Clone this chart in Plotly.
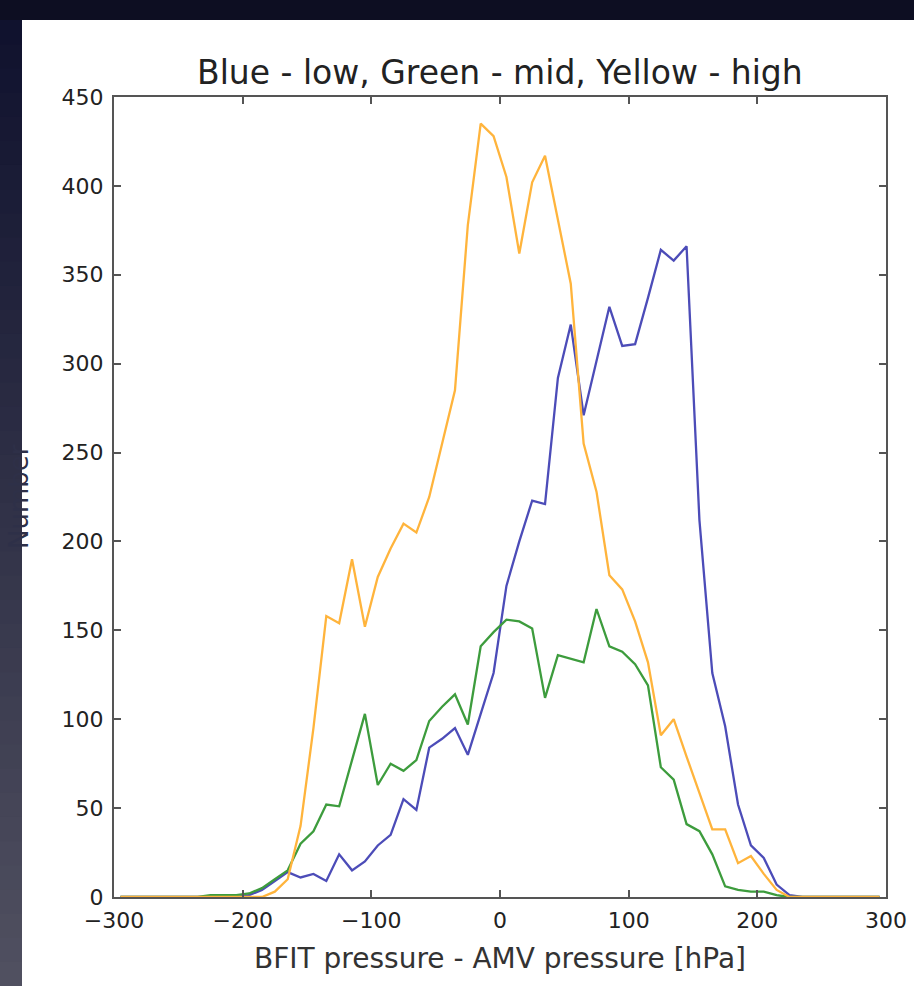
import plotly.graph_objects as go

# ---- data ----
x_centers = list(range(-295, 300, 10))

low_blue = [0, 0, 0, 0, 0, 0, 0, 0, 0, 0,            # -295 .. -205
            1, 4, 9, 14, 11, 13, 9, 24, 15, 20,      # -195 .. -105
            29, 35, 55, 49, 84, 89, 95, 80, 103, 126,  # -95 .. -5
            175, 200, 223, 221, 292, 322, 271, 302, 332, 310,  # 5 .. 95
            311, 337, 364, 358, 366, 212, 126, 96, 52, 29,     # 105 .. 195
            22, 7, 1, 0, 0, 0, 0, 0, 0, 0]                     # 205 .. 295

mid_green = [0, 0, 0, 0, 0, 0, 0, 1, 1, 1,
             2, 5, 10, 15, 30, 37, 52, 51, 77, 103,
             63, 75, 71, 77, 99, 107, 114, 97, 141, 149,
             156, 155, 151, 112, 136, 134, 132, 162, 141, 138,
             131, 119, 73, 66, 41, 37, 24, 6, 4, 3,
             3, 1, 0, 0, 0, 0, 0, 0, 0, 0]

high_yellow = [0, 0, 0, 0, 0, 0, 0, 0, 0, 0,
               0, 0, 3, 10, 40, 95, 158, 154, 190, 152,
               180, 196, 210, 205, 225, 255, 285, 378, 435, 428,
               405, 362, 402, 417, 380, 345, 255, 228, 181, 173,
               155, 132, 91, 100, 79, 58, 38, 38, 19, 23,
               13, 4, 0, 0, 0, 0, 0, 0, 0, 0]

x_ticks = [-300, -200, -100, 0, 100, 200, 300]
y_ticks = [0, 50, 100, 150, 200, 250, 300, 350, 400, 450]

title_text = "Blue - low, Green - mid, Yellow - high"
xlabel_text = "BFIT pressure - AMV pressure [hPa]"
ylabel_text = "Number"

# ---- layout geometry ----
W, H = 914, 986
L, R, T, B = 114, 28, 97, 89
PW, PH = W - L - R, H - T - B


def xp(px):
    return (px - L) / PW


def yp(py):
    return (H - B - py) / PH


fig = go.Figure()

series = [
    (low_blue, "#4c4cb8"),
    (mid_green, "#3d9c3d"),
    (high_yellow, "#ffb43c"),
]
for vals, col in series:
    fig.add_trace(go.Scatter(x=x_centers, y=vals, mode="lines",
                             line=dict(color=col, width=2.3),
                             showlegend=False, hoverinfo="skip"))

shapes = []
# white slide panel
shapes.append(dict(type="rect", xref="paper", yref="paper",
                   x0=xp(22), x1=xp(W + 5), y0=yp(H + 5), y1=yp(20),
                   fillcolor="white", line=dict(width=0), layer="below"))
# dark left strip gradient
n = 40
c0 = (16, 18, 46)
c1 = (80, 80, 96)
for i in range(n):
    t = i / (n - 1)
    c = tuple(int(round(c0[k] + (c1[k] - c0[k]) * t)) for k in range(3))
    y_top = 20 + (H - 20) * i / n
    y_bot = 20 + (H - 20) * (i + 1) / n + 1
    shapes.append(dict(type="rect", xref="paper", yref="paper",
                       x0=xp(-5), x1=xp(22), y0=yp(y_bot), y1=yp(y_top),
                       fillcolor="rgb(%d,%d,%d)" % c, line=dict(width=0),
                       layer="below"))

annotations = [
    dict(text=title_text, xref="paper", yref="paper", x=0.5, y=yp(73),
         xanchor="center", yanchor="middle", showarrow=False,
         font=dict(family="DejaVu Sans", size=33, color="#222222")),
    dict(text=xlabel_text, xref="paper", yref="paper", x=0.5, y=yp(959),
         xanchor="center", yanchor="middle", showarrow=False,
         font=dict(family="DejaVu Sans", size=28, color="#333333")),
    dict(text=ylabel_text, xref="paper", yref="paper", x=xp(19), y=0.5,
         xanchor="center", yanchor="middle", showarrow=False, textangle=-90,
         font=dict(family="DejaVu Sans", size=26, color="rgb(46,48,72)")),
]

axis_common = dict(showgrid=False, zeroline=False, showline=True,
                   linecolor="#555555", linewidth=2, mirror="ticks",
                   ticks="inside", ticklen=7, tickwidth=1.5,
                   tickcolor="#555555", automargin=False,
                   tickfont=dict(family="DejaVu Sans", size=22,
                                 color="#222222"))

fig.update_layout(
    template="none",
    width=W, height=H,
    margin=dict(l=L, r=R, t=T, b=B, pad=0),
    paper_bgcolor="#0d0e22",
    plot_bgcolor="white",
    shapes=shapes,
    annotations=annotations,
    xaxis=dict(range=[-300, 300], tickvals=x_ticks, ticklabelstandoff=3,
               **axis_common),
    yaxis=dict(range=[0, 450], tickvals=y_ticks, ticklabelstandoff=4,
               **axis_common),
    showlegend=False,
)

fig.write_html("out.html")
